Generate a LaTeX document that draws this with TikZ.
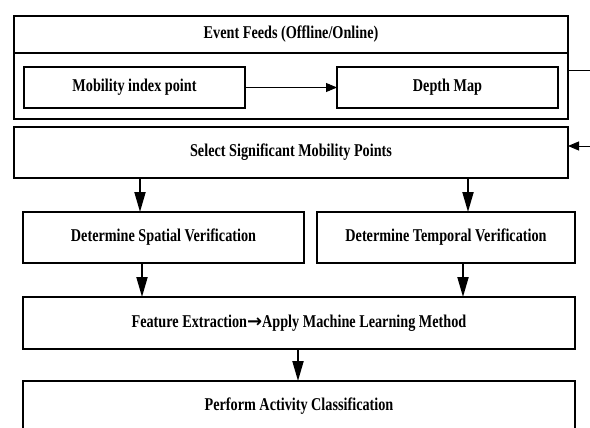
\documentclass[tikz,border=0pt]{standalone}
\usepackage{fontspec}
\setmainfont{Liberation Serif}[FakeStretch=0.79]
\newfontfamily\arrowfont{DejaVu Sans}
\usetikzlibrary{arrows.meta,calc}

\begin{document}
\begin{tikzpicture}[x=1pt,y=-1pt,
  box/.style={draw,line width=2.2pt,rectangle,inner sep=0pt,outer sep=0pt,
    font=\fontsize{18}{20}\selectfont\bfseries},
  link/.style={line width=0.9pt},
  thinarrow/.style={line width=0.9pt,-{Triangle[length=11pt,width=9pt]}},
  downarrow/.style={line width=2pt,-{Triangle[length=20pt,width=11pt]}},
]
\useasboundingbox (0,0) rectangle (590,428);
\clip (0,0) rectangle (590,428);

% input stage
\node[box,minimum width=554pt,minimum height=37pt] (feeds) at (291,34.5) {Event Feeds (Offline/Online)};
\node[box,minimum width=554pt,minimum height=66pt] (cont) at (291,86) {};
\node[box,minimum width=221pt,minimum height=41pt] (mob) at (134.5,87.5) {Mobility index point};
\node[box,minimum width=221pt,minimum height=41pt] (depth) at (447.5,87.5) {Depth Map};

% processing stages
\node[box,minimum width=554pt,minimum height=51pt] (select) at (291,152.5) {Select Significant Mobility Points};
\node[box,minimum width=281pt,minimum height=51pt] (spatial) at (163.5,237.5) {Determine Spatial Verification};
\node[box,minimum width=258pt,minimum height=51pt] (temporal) at (446,237.5) {Determine Temporal Verification};
\node[box,minimum width=552pt,minimum height=52pt] (feature) at (299,323) {Feature Extraction{\arrowfont →}Apply Machine Learning Method};
\node[box,minimum width=552pt,minimum height=51pt] (perform) at (299,406.5) {Perform Activity Classification};

% column positions of the vertical connectors
\coordinate (xa) at (140,0);
\coordinate (xb) at (468,0);
\coordinate (xc) at (142,0);
\coordinate (xd) at (463,0);
\coordinate (xe) at (298,0);

% feedback lines on the right
\coordinate (outA) at (590,70);
\coordinate (inB) at (590,146);

\draw[thinarrow] (mob) -- (depth);
\draw[link] (outA -| cont.east) -- (outA);
\draw[thinarrow] (inB) -- (inB -| select.east);

\draw[downarrow] (select.south -| xa) -- (spatial.north -| xa);
\draw[downarrow] (select.south -| xb) -- (temporal.north -| xb);
\draw[downarrow] (spatial.south -| xc) -- (feature.north -| xc);
\draw[downarrow] (temporal.south -| xd) -- (feature.north -| xd);
\draw[downarrow] (feature.south -| xe) -- (perform.north -| xe);
\end{tikzpicture}
\end{document}
